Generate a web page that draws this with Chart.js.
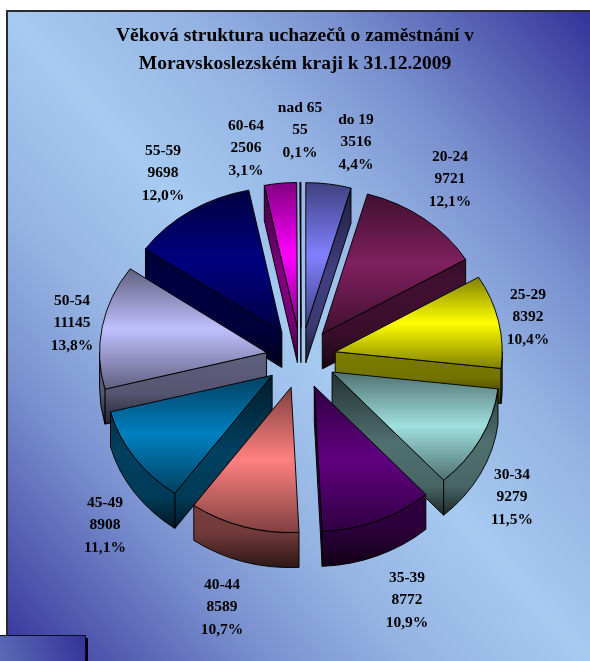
<!DOCTYPE html>
<html lang="cs">
<head>
<meta charset="utf-8">
<title>Věková struktura uchazečů</title>
<style>
html,body{margin:0;padding:0;background:#fff;overflow:hidden}
#wrap{position:absolute;left:0;top:0;width:590px;height:661px}
canvas{display:block}
</style>
<script src="https://cdn.jsdelivr.net/npm/chart.js@4"></script>
</head>
<body>
<div id="wrap"><canvas id="c" width="590" height="661"></canvas></div>
<script>
const categories = ['do 19','20-24','25-29','30-34','35-39','40-44','45-49','50-54','55-59','60-64','nad 65'];
const seekers = [3516,9721,8392,9279,8772,8589,8908,11145,9698,2506,55];
const sliceColors = ['#8080ff','#802060','#ffff00','#a0e0e0','#600080','#ff8080','#0080c0','#c0c0ff','#000080','#ff00ff','#00ffff'];
const titleLines = ['Věková struktura uchazečů o zaměstnání v','Moravskoslezském kraji k 31.12.2009'];
const labelCentres = [[356,142],[450,179],[528,317],[512,497],[407,600],[222,607],[105,525],[72,323],[163,173],[246,148],[300,130]];

const pieRadius = 167, squash = 0.87, explode = 35, depth = 35, pieShiftX = 6;
const total = seekers.reduce((a,b)=>a+b,0);

function shade(hex,k){
  const n=parseInt(hex.slice(1),16);
  return `rgb(${Math.round((n>>16&255)*k)},${Math.round((n>>8&255)*k)},${Math.round((n&255)*k)})`;
}
function extent(a){
  const s=a.startAngle,e=a.endAngle,R=a.outerRadius;
  let lo=Math.min(0,R*Math.sin(s),R*Math.sin(e)),hi=Math.max(0,R*Math.sin(s),R*Math.sin(e));
  for(const t of [-Math.PI/2,Math.PI/2,Math.PI*1.5]){
    if(t>=s&&t<=e){lo=Math.min(lo,R*Math.sin(t));hi=Math.max(hi,R*Math.sin(t));}
  }
  return [lo,hi];
}
function drawWall(ctx,a,col){
  const d=depth/squash,R=a.outerRadius,s=a.startAngle,e=a.endAngle,x=a.x,y=a.y;
  const [lo,hi]=extent(a);
  const g=ctx.createLinearGradient(0,y+lo,0,y+hi+d);
  g.addColorStop(0,shade(col,.22));g.addColorStop(.5,shade(col,.5));g.addColorStop(.8,shade(col,.45));g.addColorStop(1,shade(col,.18));
  ctx.fillStyle=g;ctx.strokeStyle='#000';ctx.lineWidth=1;ctx.lineJoin='bevel';
  const faces=[[s,Math.sin(s-Math.PI/2)],[e,Math.sin(e+Math.PI/2)]];
  for(const [t,facing] of faces){
    if(facing<=0) continue;
    ctx.beginPath();
    ctx.moveTo(x,y);ctx.lineTo(x+R*Math.cos(t),y+R*Math.sin(t));
    ctx.lineTo(x+R*Math.cos(t),y+R*Math.sin(t)+d);ctx.lineTo(x,y+d);ctx.closePath();
    ctx.fill();ctx.stroke();
  }
  const b0=Math.max(s,0),b1=Math.min(e,Math.PI);
  if(b1>b0){
    ctx.beginPath();
    ctx.arc(x,y,R,b0,b1);ctx.lineTo(x+R*Math.cos(b1),y+R*Math.sin(b1)+d);
    ctx.arc(x,y+d,R,b1,b0,true);ctx.closePath();
    ctx.fill();ctx.stroke();
  }
}
function bgMix(f){
  const L=[166,202,240],D=[51,51,153];
  return `rgb(${L.map((v,i)=>Math.round(v+(D[i]-v)*f)).join(',')})`;
}
const pie3d={
  id:'pie3d',
  beforeDraw(chart){
    const ctx=chart.ctx,W=chart.width,H=chart.height;
    ctx.save();
    ctx.fillStyle='#fff';ctx.fillRect(0,0,W,H);
    const g=ctx.createLinearGradient(-25,626,621,46);
    g.addColorStop(0,bgMix(1));g.addColorStop(.1,bgMix(.72));g.addColorStop(.225,bgMix(.38));g.addColorStop(.35,bgMix(.15));
    g.addColorStop(.5,bgMix(0));
    g.addColorStop(.65,bgMix(.15));g.addColorStop(.775,bgMix(.38));g.addColorStop(.9,bgMix(.72));g.addColorStop(1,bgMix(1));
    ctx.fillStyle=g;ctx.fillRect(6,10,W-6,H-10);
    ctx.strokeStyle='#2a2a33';ctx.lineWidth=2;
    ctx.beginPath();ctx.moveTo(W,11);ctx.lineTo(7,11);ctx.lineTo(7,H);ctx.stroke();
    ctx.restore();
  },
  beforeDatasetDraw(chart,args){
    const ctx=chart.ctx,arcs=chart.getDatasetMeta(args.index).data;
    const order=arcs.map((a,i)=>i).sort((p,q)=>{
      const mid=i=>(arcs[i].startAngle+arcs[i].endAngle)/2;
      return Math.sin(mid(p))-Math.sin(mid(q));
    });
    for(const i of order){
      const a=arcs[i],col=sliceColors[i],mid=(a.startAngle+a.endAngle)/2;
      ctx.save();
      ctx.translate(a.x+pieShiftX,a.y);ctx.scale(1,squash);ctx.translate(-a.x,-a.y);
      ctx.translate(Math.cos(mid)*explode,Math.sin(mid)*explode);
      drawWall(ctx,a,col);
      const [lo,hi]=extent(a);
      const g=ctx.createLinearGradient(0,a.y+lo,0,a.y+hi);
      g.addColorStop(0,shade(col,.5));g.addColorStop(.5,col);g.addColorStop(1,shade(col,.5));
      a.options=Object.assign({},a.options,{backgroundColor:g});
      a.draw(ctx);
      ctx.restore();
    }
    return false;
  },
  afterDatasetsDraw(chart){
    const ctx=chart.ctx;
    ctx.save();
    ctx.font='bold 15.5px "Liberation Serif"';ctx.fillStyle='#000';ctx.textAlign='center';ctx.textBaseline='middle';
    categories.forEach((name,i)=>{
      const [x,y]=labelCentres[i];
      const pct=(seekers[i]/total*100).toFixed(1).replace('.',',')+'%';
      ctx.fillText(name,x,y-22.5);ctx.fillText(String(seekers[i]),x,y);ctx.fillText(pct,x,y+22.5);
    });
    const g=ctx.createLinearGradient(0,661,85,635);
    g.addColorStop(0,'#5a6ab6');g.addColorStop(1,'#333399');
    ctx.fillStyle='#000';ctx.fillRect(86,638,2,23);
    ctx.fillStyle=g;ctx.fillRect(0,635,85,26);
    ctx.strokeStyle='#0a0a20';ctx.lineWidth=1;
    ctx.beginPath();ctx.moveTo(0,635.5);ctx.lineTo(85.5,635.5);ctx.lineTo(85.5,661);ctx.stroke();
    ctx.restore();
  }
};
new Chart(document.getElementById('c'),{
  type:'pie',
  data:{labels:categories,datasets:[{data:seekers,backgroundColor:sliceColors,borderColor:'#000',borderWidth:1,radius:pieRadius}]},
  options:{
    responsive:false,animation:false,events:[],
    layout:{padding:{left:0,right:0,top:0,bottom:23}},
    plugins:{
      legend:{display:false},tooltip:{enabled:false},
      title:{display:true,text:titleLines,color:'#000',align:'center',
        font:{family:'"Liberation Serif"',size:19.5,weight:'bold',lineHeight:1.44},
        padding:{top:22,bottom:0}}
    }
  },
  plugins:[pie3d]
});
</script>
</body>
</html>
